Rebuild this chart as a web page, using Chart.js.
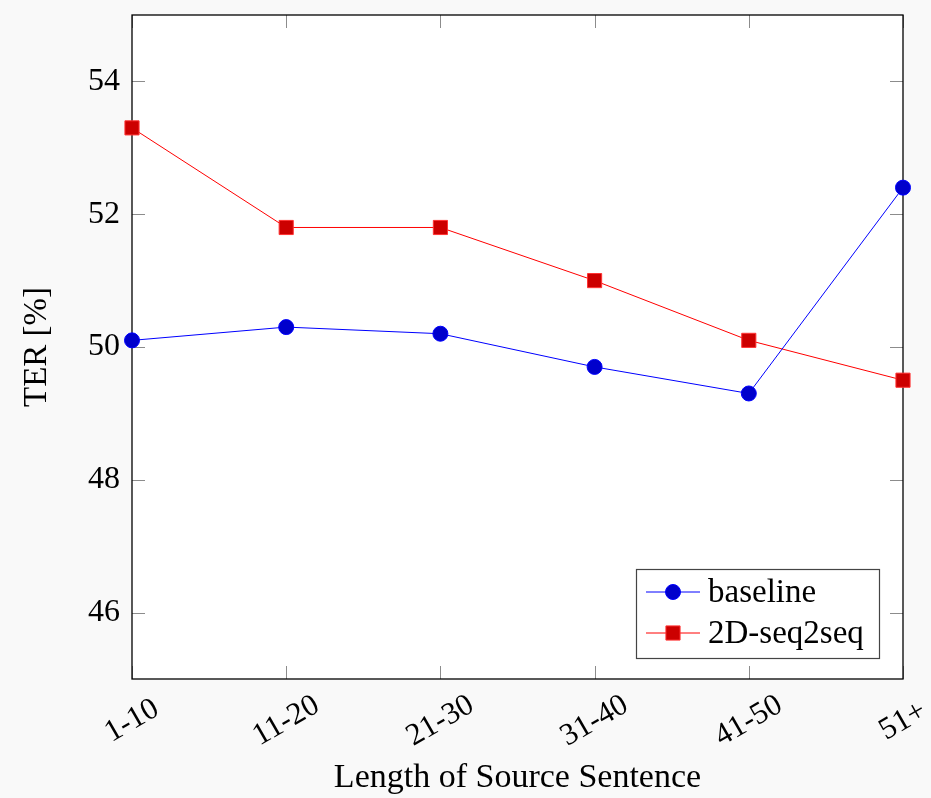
<!DOCTYPE html>
<html>
<head>
<meta charset="utf-8">
<script src="https://cdn.jsdelivr.net/npm/chart.js@4/dist/chart.umd.min.js"></script>
<style>
  html, body { margin: 0; padding: 0; background: #f9f9f9; }
  #wrap { width: 931px; height: 798px; }
</style>
</head>
<body>
<div id="wrap"><canvas id="terChart" width="931" height="798"></canvas></div>
<script>
const categories = ['1-10', '11-20', '21-30', '31-40', '41-50', '51+'];
const baselineValues = [50.1, 50.3, 50.2, 49.7, 49.3, 52.4];
const seq2seqValues = [53.3, 51.8, 51.8, 51.0, 50.1, 49.5];
const yTickValues = [46, 48, 50, 52, 54];
const seriesNames = ['baseline', '2D-seq2seq'];

const FONT = '"Liberation Serif", "Times New Roman", serif';

// white plot area, frame and inward ticks on all four sides
const framePlugin = {
    id: 'frame',
    beforeDraw(chart) {
        const { ctx, chartArea: a } = chart;
        ctx.save();
        ctx.fillStyle = '#ffffff';
        ctx.fillRect(a.left, a.top, a.right - a.left, a.bottom - a.top);
        ctx.restore();
    },
    beforeDatasetsDraw(chart) {
        const { ctx, chartArea: a, scales } = chart;
        ctx.save();
        ctx.strokeStyle = '#8c8c8c';
        ctx.lineWidth = 1;
        const len = 13;
        scales.x.ticks.forEach((t, i) => {
            const x = Math.round(scales.x.getPixelForTick(i)) + 0.5;
            ctx.beginPath();
            ctx.moveTo(x, a.bottom); ctx.lineTo(x, a.bottom - len);
            ctx.moveTo(x, a.top); ctx.lineTo(x, a.top + len);
            ctx.stroke();
        });
        scales.y.ticks.forEach(t => {
            const y = Math.round(scales.y.getPixelForValue(t.value)) + 0.5;
            ctx.beginPath();
            ctx.moveTo(a.left, y); ctx.lineTo(a.left + len, y);
            ctx.moveTo(a.right, y); ctx.lineTo(a.right - len, y);
            ctx.stroke();
        });
        ctx.strokeStyle = '#000';
        ctx.lineWidth = 1.3;
        ctx.strokeRect(a.left, a.top, a.right - a.left, a.bottom - a.top);
        ctx.restore();
    },
    afterDraw(chart) {
        const { ctx, scales } = chart;
        ctx.save();
        // rotated category labels, centred under each tick
        ctx.fillStyle = '#000';
        ctx.font = '31px ' + FONT;
        ctx.textAlign = 'center';
        ctx.textBaseline = 'middle';
        categories.forEach((c, i) => {
            const x = scales.x.getPixelForValue(i);
            ctx.save();
            ctx.translate(x, 721);
            ctx.rotate(-30 * Math.PI / 180);
            ctx.fillText(c, 0, 0);
            ctx.restore();
        });

        // legend box
        const bx = 636, by = 569, bw = 243, bh = 89;
        ctx.fillStyle = '#ffffff';
        ctx.fillRect(bx, by, bw, bh);
        ctx.strokeStyle = '#444';
        ctx.lineWidth = 1.2;
        ctx.strokeRect(bx + 0.5, by + 0.5, bw, bh);
        chart.data.datasets.forEach((ds, i) => {
            const y = 592 + i * 41;
            ctx.strokeStyle = ds.borderColor;
            ctx.lineWidth = 1;
            ctx.beginPath();
            ctx.moveTo(646, y); ctx.lineTo(700, y);
            ctx.stroke();
            ctx.fillStyle = ds.pointBackgroundColor;
            ctx.strokeStyle = ds.pointBorderColor;
            ctx.beginPath();
            if (ds.pointStyle === 'rect') {
                const s = ds.pointRadius * Math.SQRT1_2;
                ctx.rect(673 - s, y - s, 2 * s, 2 * s);
            } else {
                ctx.arc(673, y, ds.pointRadius, 0, Math.PI * 2);
            }
            ctx.fill();
            ctx.stroke();
            ctx.fillStyle = '#000';
            ctx.font = '33px ' + FONT;
            ctx.textAlign = 'left';
            ctx.textBaseline = 'middle';
            ctx.fillText(ds.label, 708, y + 1);
        });
        ctx.restore();
    }
};

const ctxTer = document.getElementById('terChart').getContext('2d');
new Chart(ctxTer, {
    type: 'line',
    data: {
        labels: categories,
        datasets: [{
            label: seriesNames[0],
            data: baselineValues,
            borderColor: '#0000ff',
            borderWidth: 1,
            pointStyle: 'circle',
            pointRadius: 7.5,
            pointBackgroundColor: '#0000cc',
            pointBorderColor: '#0000ff',
            pointBorderWidth: 1,
            tension: 0,
            clip: false
        }, {
            label: seriesNames[1],
            data: seq2seqValues,
            borderColor: '#ff0000',
            borderWidth: 1,
            pointStyle: 'rect',
            pointRadius: 10,
            pointBackgroundColor: '#cc0000',
            pointBorderColor: '#ff3333',
            pointBorderWidth: 1,
            tension: 0,
            clip: false
        }]
    },
    options: {
        responsive: false,
        animation: false,
        devicePixelRatio: 1,
        layout: { padding: { top: 15, right: 28, left: 0, bottom: 0 } },
        plugins: {
            legend: { display: false },
            tooltip: { enabled: false }
        },
        scales: {
            x: {
                type: 'category',
                offset: false,
                grid: { display: false, drawTicks: false },
                border: { display: false },
                ticks: { display: false },
                title: {
                    display: true,
                    text: 'Length of Source Sentence',
                    color: '#000',
                    font: { family: FONT, size: 34 },
                    padding: { top: 0, bottom: 0 }
                },
                afterFit: scale => {
                    scale.height = 119;
                    scale.paddingLeft = 0;
                    scale.paddingRight = 0;
                }
            },
            y: {
                min: 45,
                max: 55,
                grid: { display: false, drawTicks: false },
                border: { display: false },
                afterBuildTicks: scale => {
                    scale.ticks = yTickValues.map(v => ({ value: v }));
                },
                ticks: {
                    color: '#000',
                    padding: 12,
                    font: { family: FONT, size: 32 },
                    callback: v => String(v)
                },
                title: {
                    display: true,
                    text: 'TER [%]',
                    color: '#000',
                    font: { family: FONT, size: 33 },
                    padding: { top: 18, bottom: 0 }
                },
                afterFit: scale => {
                    scale.width = 132;
                    scale.paddingTop = 0;
                    scale.paddingBottom = 0;
                }
            }
        }
    },
    plugins: [framePlugin]
});
</script>
</body>
</html>
